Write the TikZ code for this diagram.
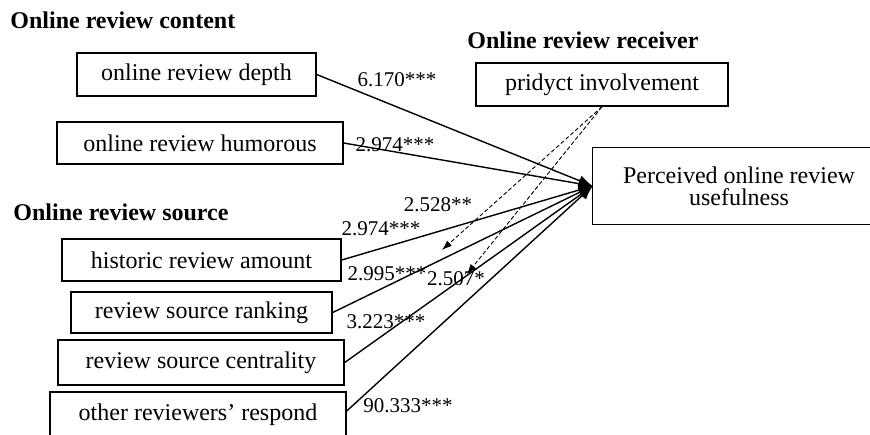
\documentclass[tikz,border=0pt]{standalone}
\usepackage{fontspec}
\setmainfont{Liberation Serif}
\usetikzlibrary{arrows.meta}

\begin{document}
\begin{tikzpicture}[x=0.5pt,y=-0.5pt,>={Latex[length=7pt,width=5.5pt]},
	factor/.style={draw,line width=0.7pt,inner sep=0pt,align=center,
		font=\fontsize{12}{11}\selectfont},
	group/.style={inner sep=0pt,anchor=base west,font=\fontsize{12}{14}\selectfont\bfseries},
	coef/.style={inner sep=0pt,font=\fontsize{10.5}{12}\selectfont},
	effect/.style={->,line width=0.7pt},
	moderate/.style={->,line width=0.45pt,dash pattern=on 2pt off 1.2pt,
		>={Latex[length=5pt,width=3.5pt]}}]

\useasboundingbox (0,0) rectangle (870,434);

% group headings
\node[group] (content) at (10,28) {Online review content};
\node[group] (receiver) at (467,48) {Online review receiver};
\node[group] (source) at (13,220) {Online review source};

% factors
\node[factor,minimum width=119.5pt,minimum height=21.5pt] (depth) at (196.5,74.5) {online review depth};
\node[factor,minimum width=143pt,minimum height=21pt] (humor) at (200,143) {online review humorous};
\node[factor,minimum width=126pt,minimum height=21.5pt] (involve) at (602,84.5) {pridyct involvement};
\node[factor,minimum width=139.5pt,minimum height=21pt] (history) at (201.5,260) {historic review amount};
\node[factor,minimum width=130.5pt,minimum height=20.5pt] (rank) at (201.5,312.5) {review source ranking};
\node[factor,minimum width=143pt,minimum height=22.5pt] (central) at (201,362.5) {review source centrality};
\node[factor,minimum width=148pt,minimum height=25pt,text depth=5pt] (respond) at (198,417) {other reviewers’ respond};

% outcome, runs off the right edge
\node[align=center,inner sep=0pt,font=\fontsize{12}{11}\selectfont,
	minimum width=146pt,minimum height=38pt] (use) at (739,186) {Perceived online review\\usefulness};
\draw[line width=0.7pt] ([xshift=20pt]use.north east) -- (use.north west)
	-- (use.south west) -- ([xshift=20pt]use.south east);

% direct effects
\draw[effect] (depth.east) -- (use.west);
\draw[effect] (humor.east) -- (use.west);
\draw[effect] (history.east) -- (use.west);
\draw[effect] (rank.east) -- (use.west);
\draw[effect] (central.east) -- (use.west);
\draw[effect] ([yshift=3pt]respond.east) -- (use.west);

% moderating effects
\coordinate (m1) at (442,250);
\coordinate (m2) at (467,274);
\draw[moderate] (involve.south) -- (m1);
\draw[moderate] (involve.south) -- (m2);

% coefficients
\node[coef] (c1) at (397,80) {6.170***};
\node[coef] (c2) at (395,145) {2.974***};
\node[coef] (c3) at (438,205) {2.528**};
\node[coef] (c4) at (381,229) {2.974***};
\node[coef] (c5) at (387,274) {2.995***};
\node[coef] (c6) at (456,279) {2.507*};
\node[coef] (c7) at (386,322) {3.223***};
\node[coef] (c8) at (408,406) {90.333***};

\end{tikzpicture}
\end{document}
